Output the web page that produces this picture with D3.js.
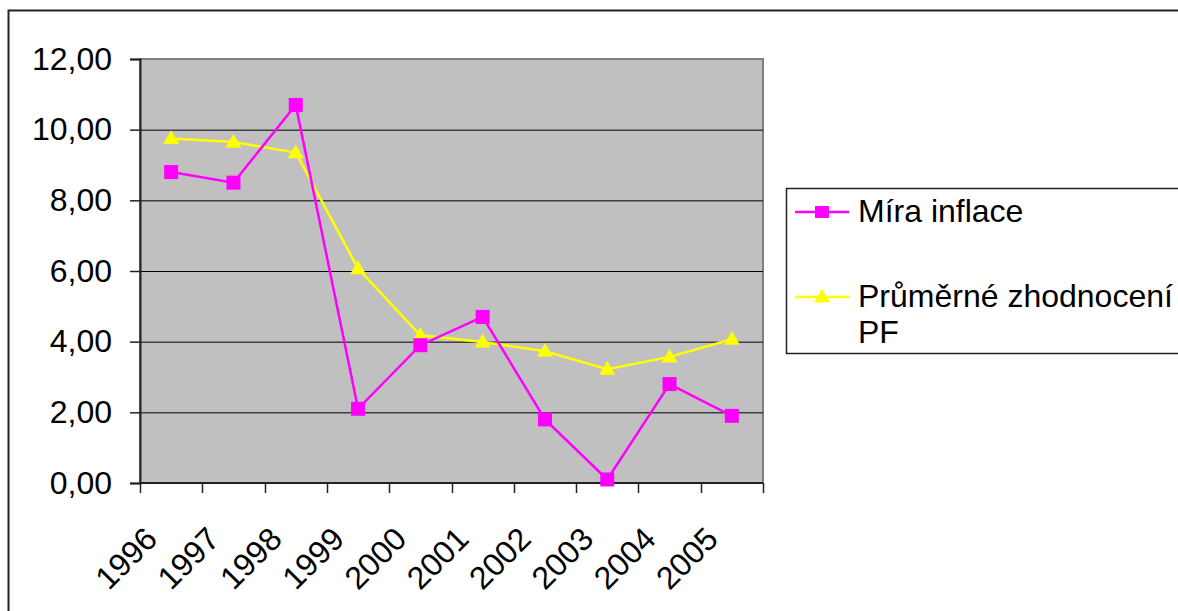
<!DOCTYPE html>
<html>
<head>
<meta charset="utf-8">
<script src="https://cdn.jsdelivr.net/npm/d3@7"></script>
<style>
    body { margin: 0; background: #fff; }
    svg { display: block; font-family: "Liberation Sans", Arial, sans-serif; }
</style>
</head>
<body>
<svg width="1178" height="611"></svg>
<script>
// years on the x axis
var years = ["1996", "1997", "1998", "1999", "2000", "2001", "2002", "2003", "2004", "2005"];
// Míra inflace
var inflace = [8.8, 8.5, 10.7, 2.1, 3.9, 4.7, 1.8, 0.1, 2.8, 1.9];
// Průměrné zhodnocení PF
var zhodnoceni = [9.75, 9.65, 9.35, 6.07, 4.18, 3.99, 3.73, 3.22, 3.57, 4.07];
var yTicks = [0, 2, 4, 6, 8, 10, 12];
var seriesNames = ["Míra inflace", "Průměrné zhodnocení PF"];

window.addEventListener("DOMContentLoaded", function () {
    drawChart();
});

function drawChart() {
    var svg = d3.select("svg");
    var fs = 32;

    // chart area border (runs off the right and bottom of the picture)
    svg.append("rect")
        .attr("x", 8.5).attr("y", 10.5)
        .attr("width", 1200).attr("height", 700)
        .attr("fill", "#fff")
        .attr("stroke", "#222").attr("stroke-width", 2);

    var left = 140, right = 763, top = 59, bottom = 483;

    var x = d3.scaleBand().domain(years).range([left, right]);
    var y = d3.scaleLinear().domain([0, 12]).range([bottom, top]);

    // plot area
    svg.append("rect")
        .attr("x", left).attr("y", top)
        .attr("width", right - left).attr("height", bottom - top)
        .attr("fill", "#c0c0c0")
        .attr("stroke", "#808080").attr("stroke-width", 2);

    // gridlines
    svg.append("g")
        .selectAll("line")
        .data(yTicks.filter(function (d) { return d > 0 && d < 12; }))
        .enter().append("line")
        .attr("x1", left).attr("x2", right)
        .attr("y1", function (d) { return y(d) + 0.5; })
        .attr("y2", function (d) { return y(d) + 0.5; })
        .attr("stroke", "#000").attr("stroke-width", 1);

    // y axis
    var yAxis = svg.append("g")
        .attr("transform", "translate(" + left + ",0)")
        .call(d3.axisLeft(y).tickValues(yTicks).tickSize(10).tickPadding(18)
            .tickFormat(function (d) { return d3.format(".2f")(d).replace(".", ","); }));
    yAxis.select(".domain").attr("stroke", "#222").attr("stroke-width", 2);
    yAxis.selectAll(".tick line").attr("stroke", "#222").attr("stroke-width", 1.5);
    yAxis.selectAll("text")
        .attr("font-size", fs)
        .attr("font-family", "Liberation Sans, Arial, sans-serif")
        .attr("fill", "#000");

    // x axis: ticks on category boundaries
    var bounds = years.map(function (d) { return x(d); }).concat([right]);
    var xg = svg.append("g");
    xg.append("line")
        .attr("x1", left).attr("x2", right)
        .attr("y1", bottom).attr("y2", bottom)
        .attr("stroke", "#222").attr("stroke-width", 2);
    xg.selectAll(".tk").data(bounds).enter().append("line")
        .attr("x1", function (d) { return Math.round(d) + 0.5; })
        .attr("x2", function (d) { return Math.round(d) + 0.5; })
        .attr("y1", bottom).attr("y2", bottom + 10)
        .attr("stroke", "#222").attr("stroke-width", 1.5);
    xg.selectAll("text").data(years).enter().append("text")
        .attr("transform", function (d) {
            return "translate(" + (x(d) + x.bandwidth() / 2 - 12) + "," + (bottom + 58) + ") rotate(-45)";
        })
        .attr("text-anchor", "end")
        .attr("font-size", fs)
        .attr("fill", "#000")
        .text(function (d) { return d; });

    var cx = function (d, i) { return x(years[i]) + x.bandwidth() / 2; };
    var line = d3.line()
        .x(function (d, i) { return cx(d, i); })
        .y(function (d) { return y(d); });

    var tri = d3.symbol().type(d3.symbolTriangle).size(110);

    // Průměrné zhodnocení PF
    svg.append("path").datum(zhodnoceni)
        .attr("d", line)
        .attr("fill", "none").attr("stroke", "#ffff00").attr("stroke-width", 2.5);
    svg.append("g").selectAll("path").data(zhodnoceni).enter().append("path")
        .attr("d", tri)
        .attr("transform", function (d, i) { return "translate(" + cx(d, i) + "," + (y(d) + 1) + ")"; })
        .attr("fill", "#ffff00");

    // Míra inflace
    svg.append("path").datum(inflace)
        .attr("d", line)
        .attr("fill", "none").attr("stroke", "#ff00ff").attr("stroke-width", 2.5);
    svg.append("g").selectAll("rect").data(inflace).enter().append("rect")
        .attr("x", function (d, i) { return cx(d, i) - 7; })
        .attr("y", function (d) { return y(d) - 7; })
        .attr("width", 14).attr("height", 14)
        .attr("fill", "#ff00ff");

    // legend
    var lg = svg.append("g");
    lg.append("rect")
        .attr("x", 786.5).attr("y", 188.5)
        .attr("width", 500).attr("height", 165)
        .attr("fill", "#fff").attr("stroke", "#222").attr("stroke-width", 1.5);

    var rows = [
        { name: seriesNames[0], color: "#ff00ff", y: 212, shape: "square" },
        { name: seriesNames[1], color: "#ffff00", y: 297, shape: "triangle" }
    ];
    rows.forEach(function (r) {
        lg.append("line")
            .attr("x1", 795).attr("x2", 849)
            .attr("y1", r.y).attr("y2", r.y)
            .attr("stroke", r.color).attr("stroke-width", 2.5);
        if (r.shape === "square") {
            lg.append("rect")
                .attr("x", 815).attr("y", r.y - 6)
                .attr("width", 14).attr("height", 12)
                .attr("fill", r.color);
        } else {
            lg.append("path")
                .attr("d", tri)
                .attr("transform", "translate(822," + (r.y + 1) + ")")
                .attr("fill", r.color);
        }
    });
    lg.append("text").attr("x", 858).attr("y", 222)
        .attr("font-size", fs).attr("fill", "#000")
        .text(seriesNames[0]);
    lg.append("text").attr("x", 858).attr("y", 307)
        .attr("font-size", fs).attr("fill", "#000")
        .text("Průměrné zhodnocení");
    lg.append("text").attr("x", 858).attr("y", 343)
        .attr("font-size", fs).attr("fill", "#000")
        .text("PF");
}
</script>
</body>
</html>
